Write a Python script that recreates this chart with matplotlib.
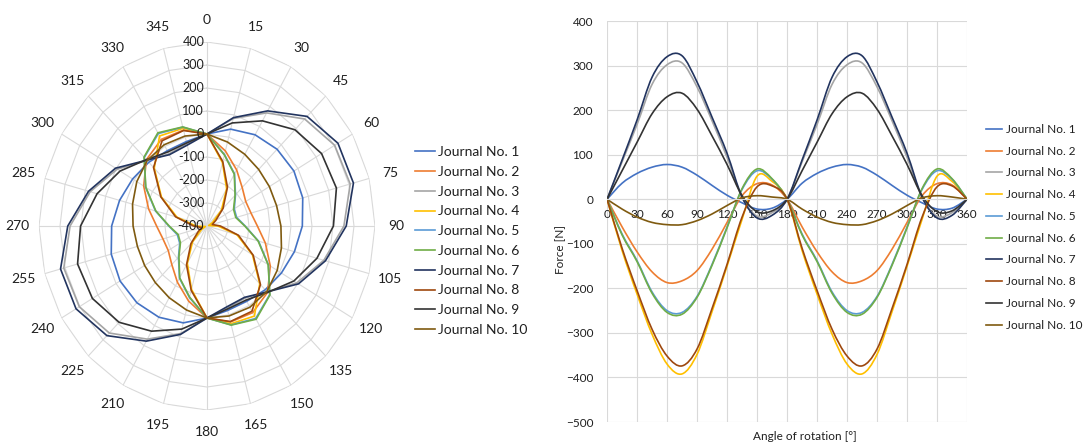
import numpy as np
import matplotlib
matplotlib.use("Agg")
import matplotlib.pyplot as plt
from matplotlib.path import Path
from matplotlib.patches import PathPatch

# ---------------- data ----------------
angles = [0, 15, 30, 45, 60, 75, 90, 105, 120, 135, 150, 165, 180,
          195, 210, 225, 240, 255, 270, 285, 300, 315, 330, 345, 360]
polar_labels = ["0", "15", "30", "45", "60", "75", "90", "105", "120", "135", "150", "165",
                "180", "195", "210", "225", "240", "255", "270", "285", "300", "315", "330", "345"]
r_ticks = [-400, -300, -200, -100, 0, 100, 200, 300, 400]
y_ticks = [-500, -400, -300, -200, -100, 0, 100, 200, 300, 400]
x_ticks = [0, 30, 60, 90, 120, 150, 180, 210, 240, 270, 300, 330, 360]

names = ["Journal No. 1", "Journal No. 2", "Journal No. 3", "Journal No. 4", "Journal No. 5",
         "Journal No. 6", "Journal No. 7", "Journal No. 8", "Journal No. 9", "Journal No. 10"]

j1 = [0, 36, 58, 72, 78, 72, 54, 31, 9, -8, -22, -20, 0,
      36, 58, 72, 78, 72, 54, 31, 9, -8, -22, -20, 0]
j2 = [0, -62, -118, -163, -187, -183, -160, -112, -52, 8, 35, 32, 0,
      -62, -118, -163, -187, -183, -160, -112, -52, 8, 35, 32, 0]
j3 = [0, 84, 168, 258, 302, 306, 252, 176, 94, 4, -38, -30, 0,
      84, 168, 258, 302, 306, 252, 176, 94, 4, -38, -30, 0]
j4 = [0, -115, -213, -303, -370, -392, -348, -252, -150, -45, 52, 40, 0,
      -115, -213, -303, -370, -392, -348, -252, -150, -45, 52, 40, 0]
j5 = [0, -78, -138, -208, -250, -254, -218, -146, -62, 22, 64, 45, 0,
      -78, -138, -208, -250, -254, -218, -146, -62, 22, 64, 45, 0]
j6 = [0, -80, -140, -211, -254, -258, -220, -148, -64, 24, 68, 46, 0,
      -80, -140, -211, -254, -258, -220, -148, -64, 24, 68, 46, 0]
j7 = [0, 88, 178, 274, 320, 322, 263, 184, 103, 5, -42, -36, 0,
      88, 178, 274, 320, 322, 263, 184, 103, 5, -42, -36, 0]
j8 = [0, -110, -205, -292, -352, -374, -336, -245, -146, -40, 28, 30, 0,
      -110, -205, -292, -352, -374, -336, -245, -146, -40, 28, 30, 0]
j9 = [0, 64, 128, 192, 230, 238, 202, 142, 78, 8, -28, -26, 0,
      64, 128, 192, 230, 238, 202, 142, 78, 8, -28, -26, 0]
j10 = [0, -22, -40, -52, -57, -57, -48, -33, -14, 3, 8, 5, 0,
       -22, -40, -52, -57, -57, -48, -33, -14, 3, 8, 5, 0]

series = [j1, j2, j3, j4, j5, j6, j7, j8, j9, j10]
colors = ["#4472C4", "#ED7D31", "#A5A5A5", "#FFC000", "#5B9BD5",
          "#70AD47", "#22345F", "#9E480E", "#333333", "#7F5A10"]

# ---------------- style ----------------
plt.rcParams["font.family"] = ["Lato", "DejaVu Sans"]
grid_c = "#D9D9D9"
text_c = "#1F1F1F"
LW = 1.2


def smooth_path(xs, ys):
    """Excel-like smoothed line: cubic Bezier through every data point."""
    x = np.asarray(xs, float)
    y = np.asarray(ys, float)
    n = len(x)
    verts = [(x[0], y[0])]
    codes = [Path.MOVETO]
    for i in range(n - 1):
        xm, ym = (x[i - 1], y[i - 1]) if i > 0 else (x[i], y[i])
        xp, yp = (x[i + 2], y[i + 2]) if i + 2 < n else (x[i + 1], y[i + 1])
        c1 = (x[i] + (x[i + 1] - xm) / 6.0, y[i] + (y[i + 1] - ym) / 6.0)
        c2 = (x[i + 1] - (xp - x[i]) / 6.0, y[i + 1] - (yp - y[i]) / 6.0)
        verts += [c1, c2, (x[i + 1], y[i + 1])]
        codes += [Path.CURVE4] * 3
    return Path(verts, codes)


fig = plt.figure(figsize=(10.86, 4.48), dpi=100)

# ---------------- polar (radar) chart ----------------
axp = fig.add_axes([0.0359, 0.0848, 0.3094, 0.8214], projection="polar")
axp.set_aspect("auto")
axp.set_theta_zero_location("N")
axp.set_theta_direction(-1)
axp.set_ylim(-400, 400)
theta = np.deg2rad(angles)
for r in r_ticks:
    axp.plot(theta, [r] * len(theta), color=grid_c, lw=0.8, zorder=0)
axp.set_xticks(np.deg2rad(angles[:-1]))
axp.set_xticklabels(polar_labels)
axp.set_yticks(r_ticks)
axp.set_yticklabels([])
axp.yaxis.grid(False)
axp.xaxis.grid(True, color=grid_c, lw=0.8)
axp.spines["polar"].set_visible(False)
axp.tick_params(axis="x", pad=5, labelsize=10, colors=text_c)
for r in r_ticks:
    axp.annotate(str(r), xy=(0, r), xytext=(-2, 0), textcoords="offset points",
                 ha="right", va="center", fontsize=9, color=text_c)
p_handles = []
for vals, c, n in zip(series, colors, names):
    h, = axp.plot(theta, vals, color=c, lw=LW, label=n)
    p_handles.append(h)

fig.legend(handles=p_handles, loc="upper left", bbox_to_anchor=(0.382, 0.674),
           frameon=False, fontsize=10, handlelength=1.45, handletextpad=0.2,
           labelspacing=0.56, borderpad=0, borderaxespad=0, labelcolor=text_c)

# ---------------- line chart ----------------
axr = fig.add_axes([0.559, 0.058, 0.3315, 0.895])
for vals, c in zip(series, colors):
    axr.add_patch(PathPatch(smooth_path(angles, vals), fill=False,
                            edgecolor=c, lw=LW, capstyle="round", joinstyle="round"))
axr.set_xlim(0, 360)
axr.set_ylim(-500, 400)
axr.set_xticks(x_ticks)
axr.set_yticks(y_ticks)
axr.grid(True, color=grid_c, lw=0.8)
axr.set_axisbelow(True)
for s in ["top", "right", "left"]:
    axr.spines[s].set_visible(False)
axr.spines["bottom"].set_position(("data", 0))
axr.spines["bottom"].set_color(grid_c)
axr.tick_params(length=0, labelsize=8.5, colors=text_c)
axr.tick_params(axis="y", pad=10)
axr.tick_params(axis="x", pad=7)
axr.set_ylabel("Force [N]", fontsize=8.5, color=text_c)
axr.yaxis.set_label_coords(-0.115, 0.43)
axr.set_xlabel("Angle of rotation [°]", fontsize=8.5, color=text_c)
axr.xaxis.set_label_coords(0.55, -0.022)

fig.legend(handles=p_handles, loc="upper left", bbox_to_anchor=(0.9075, 0.7232),
           frameon=False, fontsize=8.5, handlelength=1.4, handletextpad=0.3,
           labelspacing=0.91, borderpad=0, borderaxespad=0, labelcolor=text_c)

fig.savefig("out.png", dpi=100)
